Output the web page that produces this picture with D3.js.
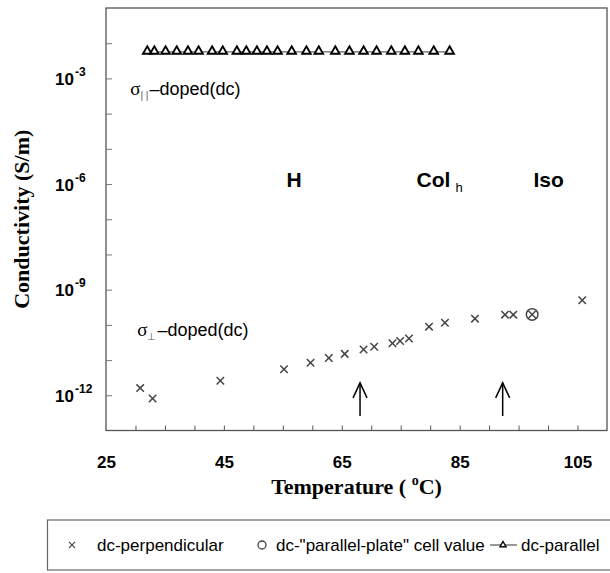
<!DOCTYPE html>
<html><head><meta charset="utf-8">
<script src="https://cdn.jsdelivr.net/npm/d3@7"></script>
<style>html,body{margin:0;padding:0;background:#fff;}svg{display:block;}</style>
</head><body>
<svg id="c" width="610" height="573"></svg>
<script>
// ---- data ----
const perpTemp  = [30.8, 32.9, 44.4, 55.2, 59.7, 62.8, 65.5, 68.7, 70.5, 73.6, 74.9, 76.4, 79.8, 82.5, 87.6, 92.7, 94.1, 97.3, 105.8];
const perpSigma = [1.6e-12, 8.1e-13, 2.6e-12, 5.5e-12, 8.4e-12, 1.15e-11, 1.5e-11, 2.0e-11, 2.4e-11, 3.0e-11, 3.5e-11, 4.1e-11, 8.9e-11, 1.15e-10, 1.5e-10, 1.95e-10, 1.95e-10, 1.98e-10, 5.0e-10];
const plateTemp  = [97.3];
const plateSigma = [1.98e-10];
const parTemp  = [32.0, 33.2, 35.1, 37.0, 38.9, 40.7, 43.0, 44.8, 47.2, 48.8, 50.6, 52.3, 54.1, 56.5, 59.0, 61.1, 63.9, 66.3, 68.7, 70.9, 73.4, 75.7, 78.0, 80.6, 83.3];
const parSigma = [5.7e-3, 5.7e-3, 5.7e-3, 5.7e-3, 5.7e-3, 5.7e-3, 5.7e-3, 5.7e-3, 5.7e-3, 5.7e-3, 5.7e-3, 5.7e-3, 5.7e-3, 5.7e-3, 5.7e-3, 5.7e-3, 5.7e-3, 5.7e-3, 5.7e-3, 5.7e-3, 5.7e-3, 5.7e-3, 5.7e-3, 5.7e-3, 5.7e-3];
const arrowTemp = [68.1, 92.3];
const arrowLow  = 2.57e-13, arrowHigh = 2.26e-12;
const xTickValues  = [30, 35, 40, 45, 50, 55, 60, 65, 70, 75, 80, 85, 90, 95, 100, 105];
const xTickLabels  = [25, 45, 65, 85, 105];
const yTickValues  = [1e-12, 1e-11, 1e-10, 1e-9, 1e-8, 1e-7, 1e-6, 1e-5, 1e-4, 1e-3, 1e-2];
const yTickLabels  = [1e-12, 1e-9, 1e-6, 1e-3];
const yExponents   = ["-12", "-9", "-6", "-3"];
const phaseNames = ["H", "Col", "Iso"];
const phaseTemp  = [56.9, 81.6, 100.1];
const phaseSigma = [8.5e-7, 8.5e-7, 8.5e-7];
const legendLabels = ["dc-perpendicular", "dc-\"parallel-plate\" cell value", "dc-parallel"];

// ---- layout ----
const svg = d3.select("#c");
const x = d3.scaleLinear().domain([25, 110]).range([106, 607]);
const y = d3.scaleLog().domain([1e-13, 1e-1]).range([430.5, 8]);
const frameColor = "#555";

// frame
svg.append("rect").attr("x", x(25)).attr("y", y(1e-1))
  .attr("width", x(110) - x(25)).attr("height", y(1e-13) - y(1e-1))
  .attr("fill", "none").attr("stroke", frameColor).attr("stroke-width", 1.3);

// x ticks (inside)
const gx = svg.append("g").attr("transform", `translate(0,${y(1e-13)})`)
  .call(d3.axisBottom(x).tickValues(xTickValues).tickSize(-5).tickFormat(""));
gx.select(".domain").remove();
gx.selectAll("line").attr("stroke", frameColor);

const gxl = svg.append("g").attr("transform", `translate(0,${y(1e-13)})`)
  .call(d3.axisBottom(x).tickValues(xTickLabels).tickSize(0).tickPadding(25).tickFormat(d3.format("d")));
gxl.select(".domain").remove();
gxl.selectAll("text").attr("font-family", "Liberation Sans, Arial, sans-serif")
  .attr("font-weight", "bold").attr("font-size", 17).attr("fill", "#000");

// y ticks (inside)
const gy = svg.append("g").attr("transform", `translate(${x(25)},0)`)
  .call(d3.axisLeft(y).tickValues(yTickValues).tickSize(-6).tickFormat(""));
gy.select(".domain").remove();
gy.selectAll("line").attr("stroke", "#777");

const gyl = svg.append("g").attr("transform", `translate(${x(25)},0)`)
  .call(d3.axisLeft(y).tickValues(yTickLabels).tickSize(0).tickFormat(""));
gyl.select(".domain").remove();
gyl.selectAll(".tick").each(function(d, i) {
  d3.select(this).append("text")
    .attr("x", -32).attr("y", 6).attr("text-anchor", "end")
    .attr("font-family", "Liberation Sans, Arial, sans-serif")
    .attr("font-weight", "bold").attr("font-size", 17).attr("fill", "#000")
    .text("10");
  d3.select(this).append("text")
    .attr("x", -31).attr("y", -3).attr("text-anchor", "start")
    .attr("font-family", "Liberation Sans, Arial, sans-serif")
    .attr("font-weight", "bold").attr("font-size", 12).attr("fill", "#000")
    .text(yExponents[i]);
});

// axis titles
svg.append("text").attr("x", (x(25) + x(110)) / 2).attr("y", 494)
  .attr("text-anchor", "middle").attr("font-family", "Liberation Serif, Times New Roman, serif")
  .attr("font-weight", "bold").attr("font-size", 22)
  .call(t => { t.append("tspan").text("Temperature ( ");
               t.append("tspan").attr("font-size", 14).attr("dy", -9).text("o");
               t.append("tspan").attr("dy", 9).text("C)"); });

svg.append("text").attr("transform", `translate(29,${(y(1e-13) + y(1e-1)) / 2}) rotate(-90)`)
  .attr("text-anchor", "middle").attr("font-family", "Liberation Serif, Times New Roman, serif")
  .attr("font-weight", "bold").attr("font-size", 22).text("Conductivity (S/m)");

// dc-parallel line + triangles
const parData = parTemp.map((t, i) => [t, parSigma[i]]);
svg.append("path").datum(parData)
  .attr("d", d3.line().x(d => x(d[0])).y(d => y(d[1])))
  .attr("fill", "none").attr("stroke", "#666").attr("stroke-width", 1.2);
const tri = d3.symbol().type(d3.symbolTriangle).size(32);
svg.append("g").selectAll("path").data(parData).join("path")
  .attr("d", tri).attr("transform", d => `translate(${x(d[0])},${y(d[1]) - 0.5})`)
  .attr("fill", "#fff").attr("stroke", "#000").attr("stroke-width", 1.9);

// perpendicular crosses
const cross = d3.symbol().type(d3.symbolX).size(38);
svg.append("g").selectAll("path").data(perpTemp.map((t, i) => [t, perpSigma[i]])).join("path")
  .attr("d", cross).attr("transform", d => `translate(${x(d[0])},${y(d[1])})`)
  .attr("fill", "none").attr("stroke", "#444").attr("stroke-width", 1.5);

// parallel-plate circle
svg.append("g").selectAll("circle").data(plateTemp.map((t, i) => [t, plateSigma[i]])).join("circle")
  .attr("cx", d => x(d[0])).attr("cy", d => y(d[1])).attr("r", 5.8)
  .attr("fill", "none").attr("stroke", "#444").attr("stroke-width", 1.5);

// arrows
const ag = svg.append("g").attr("stroke", "#000").attr("stroke-width", 1.5).attr("fill", "none");
arrowTemp.forEach(t => {
  const ax = x(t), y0 = y(arrowLow), y1 = y(arrowHigh);
  ag.append("line").attr("x1", ax).attr("x2", ax).attr("y1", y0).attr("y2", y1);
  ag.append("path").attr("d", `M${ax - 7},${y1 + 15}L${ax},${y1}L${ax + 7},${y1 + 15}`);
});

// phase labels
const pg = svg.append("g").attr("font-family", "Liberation Sans, Arial, sans-serif")
  .attr("font-weight", "bold").attr("font-size", 21).attr("fill", "#000");
phaseNames.forEach((n, i) => {
  const t = pg.append("text").attr("x", x(phaseTemp[i])).attr("y", y(phaseSigma[i]))
    .attr("text-anchor", "middle");
  t.append("tspan").text(n);
  if (n === "Col") t.append("tspan").attr("font-size", 13).attr("font-weight", "normal").attr("dx", 5).attr("dy", 5).text("h");
});

// sigma annotations
function sigmaLabel(t, s, sub) {
  const txt = svg.append("text").attr("x", x(t)).attr("y", y(s))
    .attr("font-family", "Liberation Sans, Arial, sans-serif").attr("font-size", 18).attr("fill", "#000");
  txt.append("tspan").attr("font-family", "Liberation Serif, Times New Roman, serif").attr("font-size", 19).text("σ");
  txt.append("tspan").attr("font-size", 10).attr("dy", 4).attr("fill", "#555").text(sub);
  txt.append("tspan").attr("dy", -4).attr("dx", 1).text("–doped(dc)");
}
sigmaLabel(29.1, 3.4e-4, "| |");
sigmaLabel(30.3, 4.8e-11, "⊥");

// legend
const lg = svg.append("g");
lg.append("rect").attr("x", 47.5).attr("y", 520).attr("width", 620).attr("height", 50)
  .attr("fill", "none").attr("stroke", "#666").attr("stroke-width", 1.2);
const ly = 545;
lg.append("path").attr("d", d3.symbol().type(d3.symbolX).size(26)).attr("transform", `translate(72,${ly})`)
  .attr("fill", "none").attr("stroke", "#444").attr("stroke-width", 1.2);
lg.append("circle").attr("cx", 262).attr("cy", ly).attr("r", 4).attr("fill", "none").attr("stroke", "#444").attr("stroke-width", 1.3);
lg.append("line").attr("x1", 490).attr("x2", 517).attr("y1", ly).attr("y2", ly).attr("stroke", "#333").attr("stroke-width", 1);
lg.append("path").attr("d", d3.symbol().type(d3.symbolTriangle).size(16)).attr("transform", `translate(503,${ly})`)
  .attr("fill", "#fff").attr("stroke", "#000").attr("stroke-width", 1.4);
const lx = [97, 276, 521];
legendLabels.forEach((l, i) => {
  lg.append("text").attr("x", lx[i]).attr("y", ly + 6)
    .attr("font-family", "Liberation Sans, Arial, sans-serif").attr("font-size", 17).attr("fill", "#000").text(l);
});
</script>
</body></html>
